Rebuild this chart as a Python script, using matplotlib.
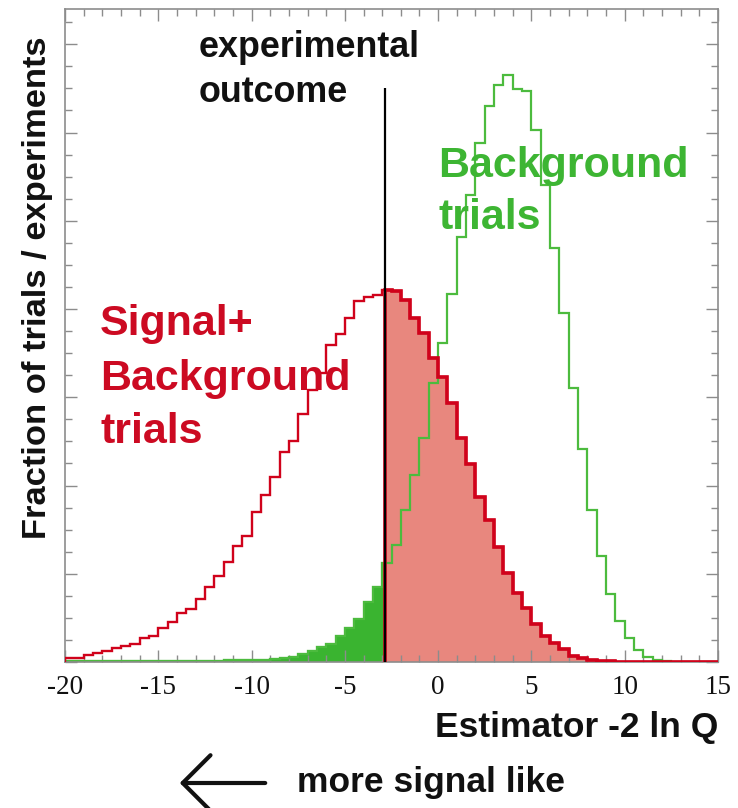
import matplotlib.pyplot as plt
import numpy as np
from matplotlib.patches import FancyArrowPatch
from matplotlib.ticker import MultipleLocator

plt.rcParams['axes.unicode_minus'] = False

# bin edges of -2 ln Q, 0.5 wide
edges = np.arange(-20, 15.01, 0.5)

# signal + background pseudo-experiments
sb_trials = [0.04, 0.045, 0.08, 0.105, 0.125, 0.16, 0.18, 0.2, 0.27, 0.29,
             0.38, 0.45, 0.55, 0.6, 0.71, 0.85, 0.975, 1.13, 1.32, 1.43,
             1.70, 1.89, 2.10, 2.38, 2.51, 2.81, 3.08, 3.27, 3.59, 3.72,
             3.90, 4.09, 4.14, 4.16, 4.22, 4.20, 4.10, 3.90, 3.73, 3.45,
             3.23, 2.93, 2.54, 2.24, 1.87, 1.61, 1.30, 1.01, 0.78, 0.61,
             0.43, 0.295, 0.21, 0.145, 0.07, 0.04, 0.02, 0.012, 0.008, 0.005,
             0.003, 0.002, 0.002, 0.001, 0.001, 0.001, 0.0, 0.0, 0.0, 0.0]

# background-only pseudo-experiments
b_trials = [0.012, 0.012, 0.012, 0.012, 0.013, 0.013, 0.013, 0.013, 0.014, 0.014,
            0.014, 0.014, 0.015, 0.015, 0.015, 0.016, 0.016, 0.017, 0.018, 0.020,
            0.022, 0.027, 0.035, 0.042, 0.06, 0.087, 0.125, 0.17, 0.2, 0.295,
            0.38, 0.49, 0.68, 0.85, 1.12, 1.33, 1.72, 2.12, 2.54, 3.16,
            3.61, 4.17, 4.82, 5.29, 5.88, 6.30, 6.54, 6.65, 6.49, 6.47,
            6.03, 5.40, 4.69, 3.96, 3.11, 2.41, 1.72, 1.20, 0.77, 0.47,
            0.27, 0.136, 0.06, 0.023, 0.01, 0.005, 0.002, 0.001, 0.0, 0.0]

x_obs = -2.85
obs_top = 6.51

red = '#d0021b'
salmon = '#e8877e'
green_fill = '#3ab430'
green_line = '#4cbb3e'
grey = '#8c8c8c'


def cut(edges, vals, lo, hi):
    # restrict a histogram to [lo, hi], splitting the border bins
    inner = edges[(edges > lo) & (edges < hi)]
    e = np.concatenate([[lo], inner, [hi]])
    mid = 0.5 * (e[1:] + e[:-1])
    idx = np.searchsorted(edges, mid) - 1
    return np.asarray(vals)[idx], e


fig = plt.figure(figsize=(7.38, 8.08), dpi=100)
ax = fig.add_axes([65 / 738, 146 / 808, 653 / 738, 653 / 808])

v, e = cut(edges, sb_trials, x_obs, 15)
ax.stairs(v, e, fill=True, color=salmon, lw=0, zorder=1)
v, e = cut(edges, b_trials, -20, x_obs)
ax.stairs(v, e, fill=True, facecolor=green_fill, edgecolor=green_fill,
          lw=1.5, zorder=1)

ax.stairs(b_trials, edges, color=green_line, lw=1.6, zorder=2)
ax.stairs(sb_trials, edges, color=red, lw=1.7, zorder=3)
v, e = cut(edges, sb_trials, x_obs, 15)
ax.stairs(v, e, color=red, lw=2.6, zorder=3)

ax.vlines(x_obs, 0, obs_top, color='black', lw=1.6, zorder=4)

ax.set_xlim(-20, 15)
ax.set_ylim(0, 7.40)
ax.xaxis.set_major_locator(MultipleLocator(5))
ax.xaxis.set_minor_locator(MultipleLocator(1))
ax.yaxis.set_major_locator(MultipleLocator(1))
ax.yaxis.set_minor_locator(MultipleLocator(0.25))
ax.tick_params(which='both', direction='in', top=True, right=True,
               color=grey, width=1, labelleft=False)
ax.tick_params(which='major', length=8.5, pad=9.5)
ax.tick_params(which='minor', length=5)
for lab in ax.get_xticklabels():
    lab.set_fontfamily('Liberation Serif')
    lab.set_fontsize(19.5)
    lab.set_color('#111111')
for sp in ax.spines.values():
    sp.set_color(grey)
    sp.set_linewidth(1.2)

sans = 'Liberation Sans'
ax.text(-12.82, 6.86, 'experimental', fontsize=25.8, fontweight='bold',
        family=sans, color='#111111', va='baseline')
ax.text(-12.82, 6.35, 'outcome', fontsize=25.8, fontweight='bold',
        family=sans, color='#111111', va='baseline')

ax.text(0.0, 5.50, 'Background', fontsize=31, fontweight='bold',
        family=sans, color='#3db533', va='baseline')
ax.text(0.0, 4.91, 'trials', fontsize=31, fontweight='bold',
        family=sans, color='#3db533', va='baseline')

ax.text(-18.12, 3.71, 'Signal+', fontsize=31, fontweight='bold',
        family=sans, color='#cc0a22', va='baseline')
ax.text(-18.12, 3.08, 'Background', fontsize=31, fontweight='bold',
        family=sans, color='#cc0a22', va='baseline')
ax.text(-18.12, 2.48, 'trials', fontsize=31, fontweight='bold',
        family=sans, color='#cc0a22', va='baseline')

fig.text(37.5 / 738, 1 - 287.4 / 808, 'Fraction of trials / experiments',
         rotation=90, ha='center', va='center', fontsize=24.8,
         fontweight='bold', family=sans, color='#111111')
fig.text(718 / 738, 1 - 736.7 / 808, 'Estimator -2 ln Q', ha='right',
         va='baseline', fontsize=25.5, fontweight='bold', family=sans,
         color='#111111')
fig.text(296.7 / 738, 1 - 791.7 / 808, 'more signal like', ha='left',
         va='baseline', fontsize=25.5, fontweight='bold', family=sans,
         color='#111111')

arrow = FancyArrowPatch((268 / 738, 1 - 783 / 808), (177 / 738, 1 - 783 / 808),
                        transform=fig.transFigure,
                        arrowstyle='->,head_length=1.0,head_width=1.0',
                        mutation_scale=20, lw=3, color='#111111')
fig.add_artist(arrow)

fig.savefig('out.png', dpi=100)
